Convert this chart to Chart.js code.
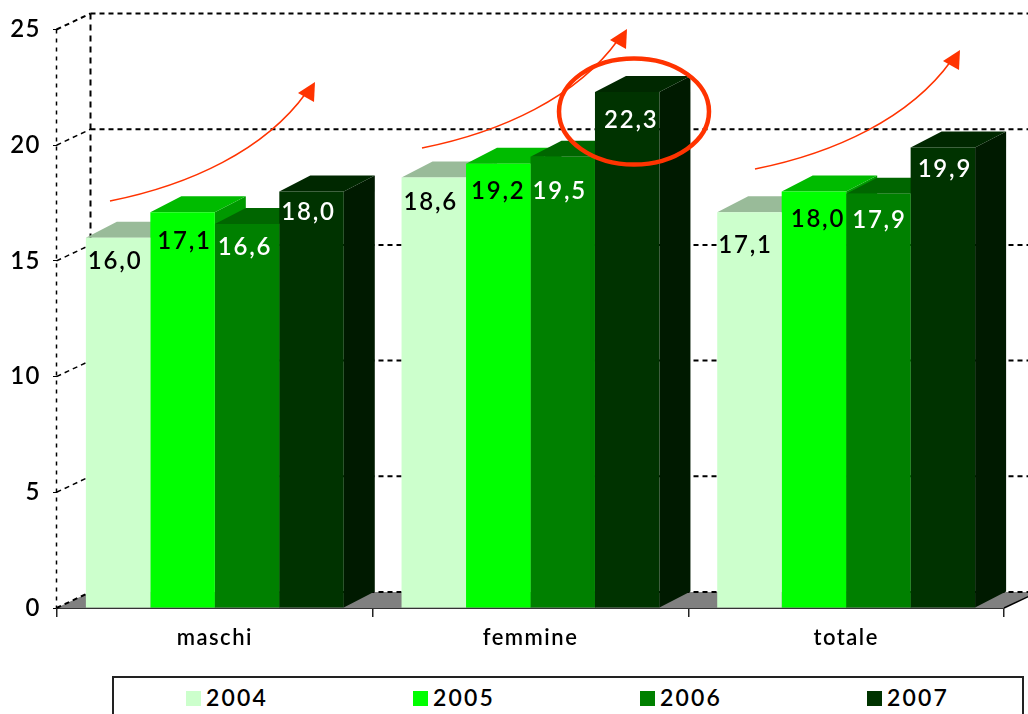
<!DOCTYPE html>
<html lang="it">
<head>
<meta charset="utf-8">
<title>maschi femmine totale</title>
<script src="https://cdn.jsdelivr.net/npm/chart.js@4"></script>
<style>
    html, body { margin: 0; padding: 0; background: #fff; overflow: hidden; }
    #wrap { position: relative; width: 1028px; height: 714px; overflow: hidden; }
    #legend {
        position: absolute; left: 112px; top: 676px; width: 908px; height: 60px;
        border: 2px solid #222; box-sizing: content-box; background: #fff;
        font: 600 23px Lato, sans-serif; letter-spacing: 2.2px; color: #000;
    }
    #legend span.item { position: absolute; top: 6px; line-height: 27px; white-space: nowrap; }
    #legend i { display: inline-block; width: 15px; height: 15px; margin-right: 5px; }
</style>
</head>
<body>
<div id="wrap">
    <canvas id="barChart" width="1028" height="714"></canvas>
    <div id="legend"></div>
</div>
<script>
const categories = ['maschi', 'femmine', 'totale'];
const years = ['2004', '2005', '2006', '2007'];
const values2004 = [16.0, 18.6, 17.1];
const values2005 = [17.1, 19.2, 18.0];
const values2006 = [16.6, 19.5, 17.9];
const values2007 = [18.0, 22.3, 19.9];

const frontColors = ['#ccffcc', '#00ff00', '#008000', '#003300'];
const topColors = ['#99bb99', '#00bb00', '#006600', '#002800'];
const sideColors = ['#99bb99', '#009900', '#005500', '#001a00'];
const labelColors = ['#000000', '#000000', '#ffffff', '#ffffff'];

// scarto delle etichette dalla barra, per anno e categoria
const labelDrop = [[24, 25, 33], [29, 28, 28], [23, 34, 26], [21, 28, 22]];
const labelShift = [[-3, -3, -4], [2, 0, 4], [-2, -3, 1], [-3, 4, 2]];

const DEPTH_X = 31;
const DEPTH_Y = 16;
const WALL_X = 34;
const RED = '#ff3300';
const FONT = 'Lato, sans-serif';

function poly(ctx, pts, color) {
    ctx.fillStyle = color;
    ctx.beginPath();
    pts.forEach((p, i) => i ? ctx.lineTo(p[0], p[1]) : ctx.moveTo(p[0], p[1]));
    ctx.closePath();
    ctx.fill();
}

function dashed(ctx, x1, y1, x2, y2, width, dash) {
    ctx.lineWidth = width;
    ctx.setLineDash(dash);
    ctx.strokeStyle = '#000';
    ctx.beginPath();
    ctx.moveTo(x1, y1);
    ctx.lineTo(x2, y2);
    ctx.stroke();
}

// Pareti, griglia tratteggiata e pavimento grigio
const wallsPlugin = {
    id: 'walls',
    beforeDatasetsDraw(chart) {
        const ctx = chart.ctx;
        const y = chart.scales.y;
        const left = chart.chartArea.left - 0.5;
        const right = chart.chartArea.right;
        const back = left + WALL_X;
        ctx.save();
        const floor = y.getPixelForValue(0);
        poly(ctx, [[left, floor], [back, floor - DEPTH_Y], [right + WALL_X, floor - DEPTH_Y], [right, floor]], '#808080');
        y.ticks.forEach(t => {
            const py = y.getPixelForValue(t.value);
            const strong = t.value === 25 || t.value === 0;
            dashed(ctx, back, py - DEPTH_Y, 1028, py - DEPTH_Y, 2, [5, 4]);
            dashed(ctx, left, py, back, py - DEPTH_Y, strong ? 2 : 1.5, [5, 4]);
        });
        dashed(ctx, left, y.getPixelForValue(25), left, floor, 1.5, [4, 5]);
        dashed(ctx, back, y.getPixelForValue(25) - DEPTH_Y, back, floor - DEPTH_Y, 2, [6, 5]);
        ctx.setLineDash([]);
        ctx.lineWidth = 1.5;
        ctx.beginPath();
        ctx.moveTo(right, floor);
        ctx.lineTo(right + WALL_X, floor - DEPTH_Y);
        ctx.stroke();

        // facce laterali e superiori delle barre, da sinistra a destra
        chart.data.labels.forEach((_, c) => {
            chart.data.datasets.forEach((ds, d) => {
                const bar = chart.getDatasetMeta(d).data[c];
                const l = bar.x - bar.width / 2;
                const r = bar.x + bar.width / 2;
                poly(ctx, [[r, bar.y], [r + DEPTH_X, bar.y - DEPTH_Y], [r + DEPTH_X, bar.base - DEPTH_Y], [r, bar.base]], sideColors[d]);
                poly(ctx, [[l, bar.y], [l + DEPTH_X, bar.y - DEPTH_Y], [r + DEPTH_X, bar.y - DEPTH_Y], [r, bar.y]], topColors[d]);
            });
        });
        ctx.restore();
    }
};

function drawArrow(ctx, dx, dy) {
    ctx.strokeStyle = RED;
    ctx.lineWidth = 1.5;
    ctx.beginPath();
    ctx.moveTo(110 + dx, 201 + dy);
    ctx.bezierCurveTo(190 + dx, 185 + dy, 265 + dx, 150 + dy, 306 + dx, 93 + dy);
    ctx.stroke();
    poly(ctx, [[315 + dx, 82 + dy], [298 + dx, 93 + dy], [314 + dx, 102 + dy]], RED);
}

// Etichette dei valori, frecce e cerchio sul massimo
const overlayPlugin = {
    id: 'overlay',
    afterDatasetsDraw(chart) {
        const ctx = chart.ctx;
        ctx.save();
        ctx.font = '600 24px ' + FONT;
        ctx.letterSpacing = '1.8px';
        ctx.textAlign = 'center';
        ctx.textBaseline = 'middle';
        chart.data.datasets.forEach((ds, d) => {
            chart.getDatasetMeta(d).data.forEach((bar, c) => {
                ctx.fillStyle = labelColors[d];
                ctx.fillText(ds.data[c].toFixed(1).replace('.', ','), bar.x + labelShift[d][c], bar.y + labelDrop[d][c]);
            });
        });
        drawArrow(ctx, 0, 0);
        drawArrow(ctx, 312, -53);
        drawArrow(ctx, 645, -32);
        ctx.strokeStyle = RED;
        ctx.lineWidth = 4.5;
        ctx.beginPath();
        ctx.ellipse(634, 111.5, 75, 53, 0, 0, Math.PI * 2);
        ctx.stroke();
        ctx.restore();
    }
};

const spacingPlugin = {
    id: 'spacing',
    beforeDraw(chart) { chart.ctx.letterSpacing = '1.5px'; }
};

function initChart() {
    const ctx = document.getElementById('barChart').getContext('2d');
    const series = [values2004, values2005, values2006, values2007];
    new Chart(ctx, {
        type: 'bar',
        plugins: [spacingPlugin, wallsPlugin, overlayPlugin],
        data: {
            labels: categories,
            datasets: years.map((year, i) => ({
                label: year,
                data: series[i],
                backgroundColor: frontColors[i],
                borderWidth: 0,
                barPercentage: 1.0,
                categoryPercentage: 0.817
            }))
        },
        options: {
            responsive: false,
            animation: false,
            layout: { padding: { top: 29.5, right: 24, bottom: 50, left: 0 } },
            plugins: { legend: { display: false }, tooltip: { enabled: false } },
            scales: {
                y: {
                    min: 0,
                    max: 25,
                    afterFit(scale) { scale.width = 57; },
                    border: { display: false },
                    grid: { drawOnChartArea: false, tickLength: 4, color: '#000' },
                    ticks: { stepSize: 5, color: '#000', padding: 12, font: { family: FONT, size: 24, weight: '600' } }
                },
                x: {
                    offset: true,
                    afterFit(scale) { scale.height = 56; },
                    border: { display: true, color: '#333', width: 2 },
                    grid: { drawOnChartArea: false, tickLength: 9, color: '#222', lineWidth: 1.5 },
                    ticks: { color: '#000', padding: 8, maxRotation: 0, font: { family: FONT, size: 22, weight: '600' } }
                }
            }
        }
    });
}

function initLegend() {
    const box = document.getElementById('legend');
    years.forEach((year, i) => {
        const item = document.createElement('span');
        item.className = 'item';
        item.style.left = (72 + i * 227) + 'px';
        item.innerHTML = '<i style="background:' + frontColors[i] + '"></i>' + year;
        box.appendChild(item);
    });
}

window.onload = () => {
    initChart();
    initLegend();
};
</script>
</body>
</html>
